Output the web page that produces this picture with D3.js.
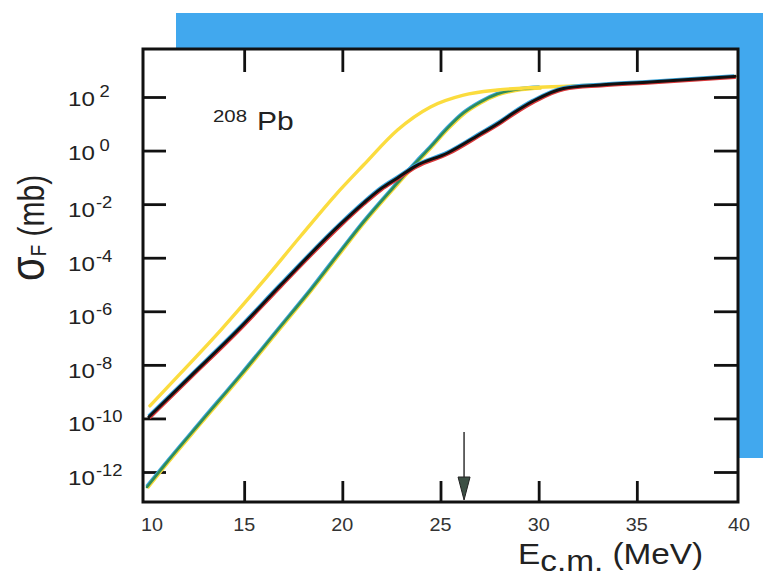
<!DOCTYPE html>
<html>
<head>
<meta charset="utf-8">
<script src="https://cdn.jsdelivr.net/npm/d3@7"></script>
<style>
    body { margin: 0; background: #fff; }
    text { font-family: "Liberation Sans", Arial, sans-serif; }
</style>
</head>
<body>
<div class="chart"></div>
<script>
// E_cm (MeV) and log10(sigma_F / mb)
var yellowE   = [10.2, 11.78, 13.81, 15.85, 17.88, 19.66, 21.08, 22.81, 24.49, 26.17, 27.9, 29.58, 31.46, 33.14, 35.68, 40];
var yellowLog = [-9.53, -8.30, -6.70, -4.98, -3.19, -1.65, -0.54, 0.77, 1.63, 2.07, 2.26, 2.35, 2.40, 2.46, 2.56, 2.77];

var greenE   = [10.05, 10.92, 12.8, 14.83, 16.71, 18.39, 19.92, 21.08, 22.81, 23.73, 24.49, 25.36, 26.17, 27.03, 27.9, 29.07, 30.09];
var greenLog = [-12.56, -11.77, -10.13, -8.38, -6.70, -5.20, -3.75, -2.67, -1.21, -0.46, 0.13, 0.84, 1.40, 1.81, 2.11, 2.30, 2.36];

var blackE   = [10.15, 12.29, 14.68, 16.86, 19.92, 21.08, 21.95, 22.81, 23.73, 25.36, 27.03, 28.05, 28.71, 29.73, 31.26, 33.14, 35.68, 40];
var blackLog = [-9.94, -8.41, -6.70, -5.02, -2.74, -1.96, -1.43, -1.02, -0.58, -0.09, 0.62, 1.07, 1.40, 1.85, 2.32, 2.45, 2.56, 2.77];

var xTicks = [15, 20, 25, 30, 35];
var xLabels = [10, 15, 20, 25, 30, 35, 40];
var yTicks = [1e2, 1e0, 1e-2, 1e-4, 1e-6, 1e-8, 1e-10, 1e-12];
var arrowE = 26.2;

(function() {
    var width = 763, height = 580;
    var left = 143, right = 738, top = 49, bottom = 502;

    var svg = d3.select(".chart")
                .append("svg")
                .attr("width", width)
                .attr("height", height);

    // blue panel behind the frame
    svg.append("rect")
        .attr("x", 176).attr("y", 13)
        .attr("width", width - 176).attr("height", 445)
        .attr("fill", "#41a8ee");
    svg.append("rect")
        .attr("x", left).attr("y", top)
        .attr("width", right - left).attr("height", bottom - top)
        .attr("fill", "#fff");

    var x = d3.scaleLinear().domain([10, 40]).range([146, 735]);
    var y = d3.scaleLog().domain([1e-12, 1e2]).range([472, 97]);

    function styleTicks(g) {
        g.select(".domain").remove();
        g.selectAll(".tick line").attr("stroke", "#111").attr("stroke-width", 2.8);
    }

    svg.append("g").attr("transform", "translate(0," + bottom + ")")
        .call(d3.axisBottom(x).tickValues(xTicks).tickSize(-21).tickFormat(""))
        .call(styleTicks);
    svg.append("g").attr("transform", "translate(0," + top + ")")
        .call(d3.axisTop(x).tickValues(xTicks).tickSize(-23).tickFormat(""))
        .call(styleTicks);
    svg.append("g").attr("transform", "translate(" + left + ",0)")
        .call(d3.axisLeft(y).tickValues(yTicks).tickSize(-23).tickFormat(""))
        .call(styleTicks);
    svg.append("g").attr("transform", "translate(" + right + ",0)")
        .call(d3.axisRight(y).tickValues(yTicks).tickSize(-24).tickFormat(""))
        .call(styleTicks);

    // curves, each with a slight colour fringe like the printed original
    var line = d3.line()
        .x(function(d) { return x(d.e) })
        .y(function(d) { return y(Math.pow(10, d.l)) })
        .curve(d3.curveMonotoneX);

    function pts(es, ls) {
        return es.map(function(e, i) { return { e: e, l: ls[i] } });
    }

    var series = [
        { data: pts(greenE, greenLog), color: "#2f8c58", w: 2.6,
          fringe: [["#f5d83a", 1, 1.3], ["#3aa6e0", -0.8, -1]] },
        { data: pts(yellowE, yellowLog), color: "#fbdc3e", w: 3.4, fringe: [] },
        { data: pts(blackE, blackLog), color: "#111", w: 3,
          fringe: [["#d9383a", 0.9, 1.3], ["#3aa6e0", -0.7, -1.1]] }
    ];

    series.forEach(function(s) {
        s.fringe.forEach(function(f) {
            svg.append("path")
                .datum(s.data)
                .attr("d", line)
                .attr("transform", "translate(" + f[1] + "," + f[2] + ")")
                .attr("fill", "none")
                .attr("stroke", f[0])
                .attr("stroke-width", s.w - 0.6);
        });
        svg.append("path")
            .datum(s.data)
            .attr("d", line)
            .attr("fill", "none")
            .attr("stroke", s.color)
            .attr("stroke-width", s.w)
            .attr("stroke-linecap", "round");
    });

    // frame
    svg.append("rect")
        .attr("x", left).attr("y", top)
        .attr("width", right - left).attr("height", bottom - top)
        .attr("fill", "none")
        .attr("stroke", "#111")
        .attr("stroke-width", 3);

    // arrow
    svg.append("line")
        .attr("x1", x(arrowE)).attr("x2", x(arrowE))
        .attr("y1", 432).attr("y2", 480)
        .attr("stroke", "#333").attr("stroke-width", 1.5);
    svg.append("path")
        .attr("d", "M" + (x(arrowE) - 6) + ",477 L" + (x(arrowE) + 6) + ",477 L" + x(arrowE) + ",500 Z")
        .attr("fill", "#3c4f44").attr("stroke", "#222").attr("stroke-width", 1);

    function wideText(x0, y0, sx) {
        return svg.append("text")
            .attr("transform", "translate(" + x0 + "," + y0 + ") scale(" + sx + ",1)");
    }

    // y tick labels
    yTicks.forEach(function(v) {
        var e = Math.round(Math.log10(v));
        var t = wideText(68, y(v) + (e < 0 ? 13 : 9), 1.15)
            .attr("font-size", 21).attr("fill", "#222")
            .text("10");
        t.append("tspan")
            .attr("dx", e < 0 ? 1 : 4).attr("dy", -9)
            .attr("font-size", 16)
            .text(e < 0 ? "-" + (-e) : e);
    });

    // x tick labels
    xLabels.forEach(function(v, i) {
        var nudge = i == 0 ? 6 : (i == xLabels.length - 1 ? 4 : 0);
        wideText(x(v) + nudge, 531, 1.1)
            .attr("font-size", 18).attr("fill", "#333")
            .attr("text-anchor", "middle")
            .text(v);
    });

    // axis titles
    var xt = wideText(518, 564, 1.15).attr("font-size", 29).attr("fill", "#222");
    xt.append("tspan").text("E");
    xt.append("tspan").attr("dy", 7).text("c.m.");
    xt.append("tspan").attr("dy", -7).attr("dx", 8).text("(MeV)");

    var yt = svg.append("text")
        .attr("transform", "translate(44,281) scale(1.2,1) rotate(-90)")
        .attr("font-size", 30).attr("fill", "#222");
    yt.append("tspan").attr("font-size", 40).text("σ");
    yt.append("tspan").attr("font-size", 19).attr("dy", 2).text("F");
    yt.append("tspan").attr("dy", -2).text(" (mb)");

    // nucleus label
    wideText(213, 122, 1.2).attr("font-size", 17).attr("fill", "#222").text("208");
    wideText(257, 130, 1.2).attr("font-size", 25).attr("fill", "#222").text("Pb");
})();
</script>
</body>
</html>
